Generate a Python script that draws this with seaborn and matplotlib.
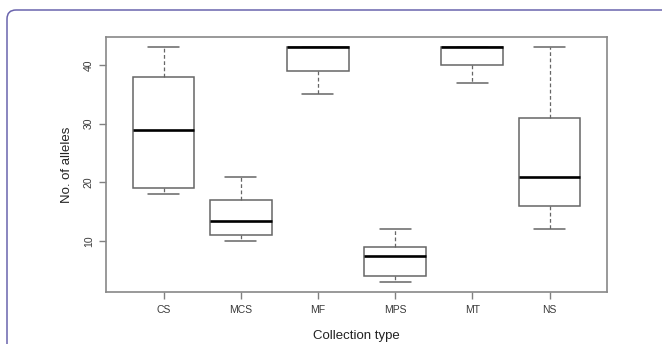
import pandas as pd
import seaborn as sns
import matplotlib.pyplot as plt
from matplotlib.patches import FancyBboxPatch
from matplotlib.transforms import IdentityTransform

# five-number summaries (min, Q1, median, Q3, max)
types = ['CS', 'MCS', 'MF', 'MPS', 'MT', 'NS']
cs = [18, 19, 29, 38, 43]
mcs = [10, 11, 13.5, 17, 21]
mf = [35, 39, 43, 43, 43]
mps = [3, 4, 7.5, 9, 12]
mt = [37, 40, 43, 43, 43]
ns = [12, 16, 21, 31, 43]
y_ticks = [10, 20, 30, 40]

rows = []
for name, vals in zip(types, [cs, mcs, mf, mps, mt, ns]):
    for v in vals:
        rows.append({'Collection type': name, 'No. of alleles': v})
df = pd.DataFrame(rows)

sns.set_style('white')
plt.rcParams['font.family'] = ['Liberation Sans', 'DejaVu Sans']

fig = plt.figure(figsize=(6.62, 3.44), dpi=100)
ax = fig.add_axes([0.1607, 0.1503, 0.7557, 0.7413])

grey = '#666666'
sns.boxplot(data=df, x='Collection type', y='No. of alleles', order=types,
            color='white', linecolor=grey, linewidth=1.1, width=0.8,
            whis=(0, 100), ax=ax,
            medianprops=dict(color='black', linewidth=1.9),
            whiskerprops=dict(linestyle=(0, (3, 2)), linewidth=0.9),
            capprops=dict(linewidth=1.1))

ax.set_xlim(-0.74, 5.74)
ax.set_ylim(1.3, 44.7)
ax.set_yticks(y_ticks)
ax.set_yticklabels([str(t) for t in y_ticks], rotation=90, va='center')
ax.tick_params(axis='both', direction='out', length=5, width=1, color='#808080',
               labelsize=7.5, labelcolor='#3a3a3a', pad=4, left=True, bottom=True)
for s in ax.spines.values():
    s.set_color('#888888')
    s.set_linewidth(1.2)
ax.set_xlabel('Collection type', fontsize=9.5, color='#222222', labelpad=11)
ax.set_ylabel('No. of alleles', fontsize=9.5, color='#222222', labelpad=8)

# outer purple frame with rounded corner
frame = FancyBboxPatch((7, -30), 720, 334 + 30,
                       boxstyle='round,pad=0,rounding_size=9',
                       transform=IdentityTransform(), fill=False,
                       edgecolor='#6a64ad', linewidth=1.1)
fig.patches.append(frame)

fig.savefig('out.png', dpi=100)
